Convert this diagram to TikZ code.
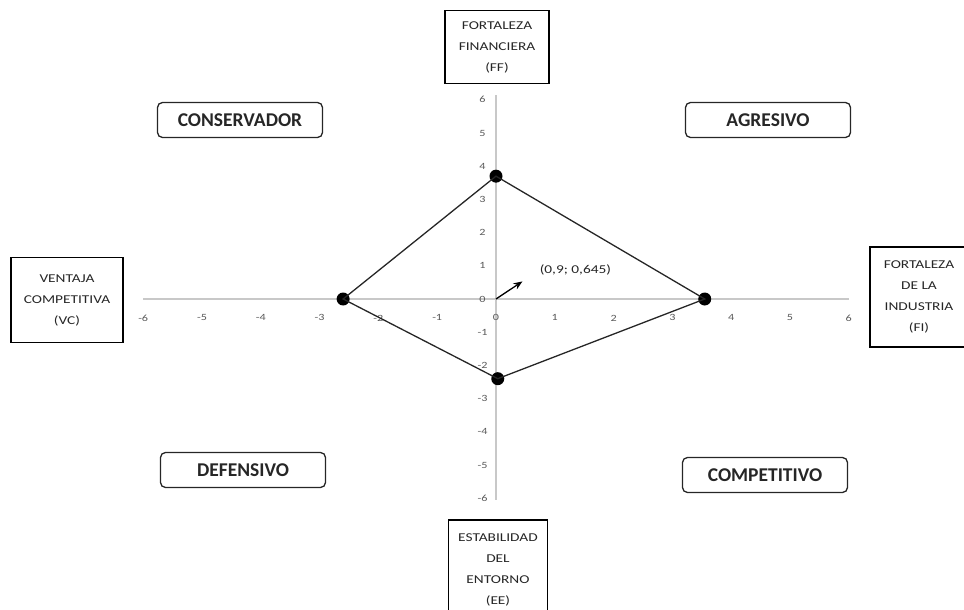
\documentclass[tikz,border=0pt]{standalone}
\usepackage{fontspec}
\setmainfont{Carlito}
\newfontfamily\widefont{Carlito}[FakeStretch=1.28]
\usetikzlibrary{arrows.meta}
\definecolor{axisgray}{HTML}{C8C8C8}
\definecolor{tickgray}{HTML}{595959}
\definecolor{linegray}{HTML}{262626}
\tikzset{
  axisbox/.style={draw=black, line width=1.3pt, align=center, inner sep=0pt,
    font=\widefont\fontsize{12}{21}\selectfont, text=black!85},
  quadbox/.style={draw=linegray, line width=1.3pt, rounded corners=5pt, minimum width=165pt,
    minimum height=35pt, font=\fontsize{19.5}{22}\selectfont\bfseries, text=black!85},
  vertex/.style={circle, fill=black, inner sep=0pt, minimum size=13pt},
  ticklab/.style={font=\widefont\fontsize{9.5}{10}\selectfont, text=tickgray, inner sep=0pt}
}
\begin{document}
\begin{tikzpicture}[x=1pt, y=-1pt]
\useasboundingbox (0,0) rectangle (964,610);

% quadrant labels
\node[quadbox] (cons) at (240,120) {CONSERVADOR};
\node[quadbox] (agre) at (768,120) {AGRESIVO};
\node[quadbox] (defe) at (243,470) {DEFENSIVO};
\node[quadbox] (comp) at (765,475) {COMPETITIVO};

% axis names
\node[axisbox, minimum width=104pt, minimum height=73pt] (ff) at (497,47) {FORTALEZA\\FINANCIERA\\(FF)};
\node[axisbox, minimum width=112pt, minimum height=85pt] (vc) at (67,300) {VENTAJA\\COMPETITIVA\\(VC)};
\node[axisbox, minimum width=98pt, minimum height=100pt] (fi) at (919,297) {FORTALEZA\\DE LA\\INDUSTRIA\\(FI)};
\node[axisbox, minimum width=99pt, minimum height=100pt] (ee) at (498,570) {ESTABILIDAD\\DEL\\ENTORNO\\(EE)};

\begin{scope}[shift={(496,299)}, x=58.8pt, y=33.2pt]
\draw[axisgray, line width=1.3pt] (-6,0) -- (6,0);
\draw[axisgray, line width=1.3pt] (0,-6.05) -- (0,6.15);
\foreach \i in {-6,...,6}{
  \node[ticklab] (xt\i) at (\i,-0.57) {\i};
  \node[ticklab] (yt\i) at (-0.23,\i) {\i};
}

\coordinate (o) at (0,0);
\coordinate (res) at (0.45,0.53);
\node[vertex] (pvc) at (-2.6,0) {};
\node[vertex] (pff) at (0,3.7) {};
\node[vertex] (pfi) at (3.55,0) {};
\node[vertex] (pee) at (0.03,-2.4) {};
\draw[linegray, line width=1.3pt] (pvc.center) -- (pff.center) -- (pfi.center) -- (pee.center) -- cycle;
\draw[black, line width=1.3pt, -{Stealth[length=9pt, width=7pt]}] (o) -- (res);
\node[font=\widefont\fontsize{12}{13}\selectfont, text=black!85] (reslab) at (1.35,0.87) {(0,9; 0,645)};
\end{scope}
\end{tikzpicture}
\end{document}
